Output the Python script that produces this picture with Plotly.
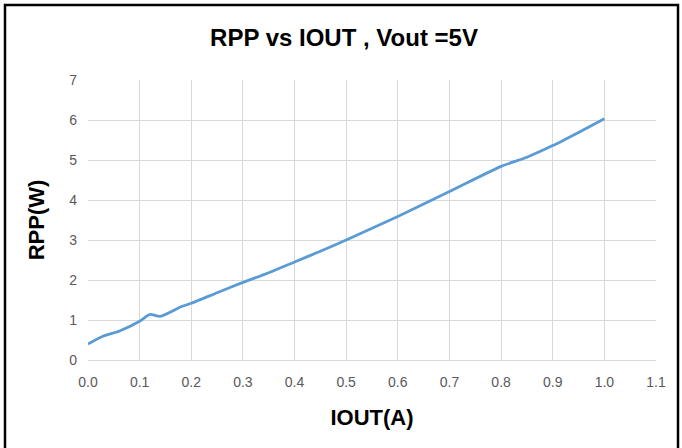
import plotly.graph_objects as go

iout = [0.0, 0.03, 0.06, 0.10, 0.12, 0.14, 0.18, 0.20, 0.25, 0.30, 0.35, 0.40, 0.45, 0.50, 0.60, 0.70, 0.80, 0.85, 0.90, 0.95, 1.00]
rpp = [0.40, 0.60, 0.72, 0.97, 1.14, 1.09, 1.33, 1.42, 1.68, 1.94, 2.18, 2.45, 2.72, 3.00, 3.59, 4.21, 4.84, 5.07, 5.36, 5.69, 6.03]
x_ticks = [0.0, 0.1, 0.2, 0.3, 0.4, 0.5, 0.6, 0.7, 0.8, 0.9, 1.0, 1.1]
y_ticks = [0, 1, 2, 3, 4, 5, 6, 7]

W, H = 682, 448
L, R, T, B = 88, 26, 80, 88

FONT = "Liberation Sans, Arial, sans-serif"

fig = go.Figure()
fig.add_trace(go.Scatter(
    x=iout, y=rpp, mode="lines",
    line=dict(color="#5B9BD5", width=2.8, shape="spline", smoothing=0.6),
    showlegend=False, hoverinfo="skip",
))

def px2paper_x(px):
    return (px - L) / (W - L - R)

def px2paper_y(py):
    return (H - B - py) / (H - T - B)

fig.update_layout(
    width=W, height=H,
    margin=dict(l=L, r=R, t=T, b=B, autoexpand=False),
    paper_bgcolor="white", plot_bgcolor="white",
    title=dict(text="<b>RPP vs IOUT , Vout =5V</b>", x=344 / W, xanchor="center",
               y=1 - 38 / H, yanchor="middle",
               font=dict(family=FONT, size=24, color="#000000")),
    xaxis=dict(range=[0, 1.1], tickvals=x_ticks, ticktext=[f"{v:.1f}" for v in x_ticks],
               showgrid=True, gridcolor="#d9d9d9", gridwidth=1, automargin=False,
               zeroline=False, showline=True, linecolor="#d9d9d9", linewidth=1,
               ticks="", ticklabelstandoff=9,
               tickfont=dict(family=FONT, size=14, color="#595959"),
               title=dict(text="<b>IOUT(A)</b>", standoff=20,
                          font=dict(family=FONT, size=22, color="#000000"))),
    yaxis=dict(range=[0, 7], tickvals=y_ticks, automargin=False,
               showgrid=True, gridcolor="#d9d9d9", gridwidth=1,
               zeroline=False, showline=False, ticks="", ticklabelstandoff=10,
               tickfont=dict(family=FONT, size=14, color="#595959"),
               title=dict(text="<b>RPP(W)</b>", standoff=18,
                          font=dict(family=FONT, size=22, color="#000000"))),
    shapes=[dict(type="path", xref="paper", yref="paper",
                 path=(f"M {px2paper_x(5)} {px2paper_y(460)} L {px2paper_x(5)} {px2paper_y(5)} "
                       f"L {px2paper_x(678)} {px2paper_y(5)} L {px2paper_x(678)} {px2paper_y(460)}"),
                 line=dict(color="#000000", width=2.5))],
)

fig.write_html("out.html", config={"displayModeBar": False},
               post_script="document.body.style.margin='0';")
